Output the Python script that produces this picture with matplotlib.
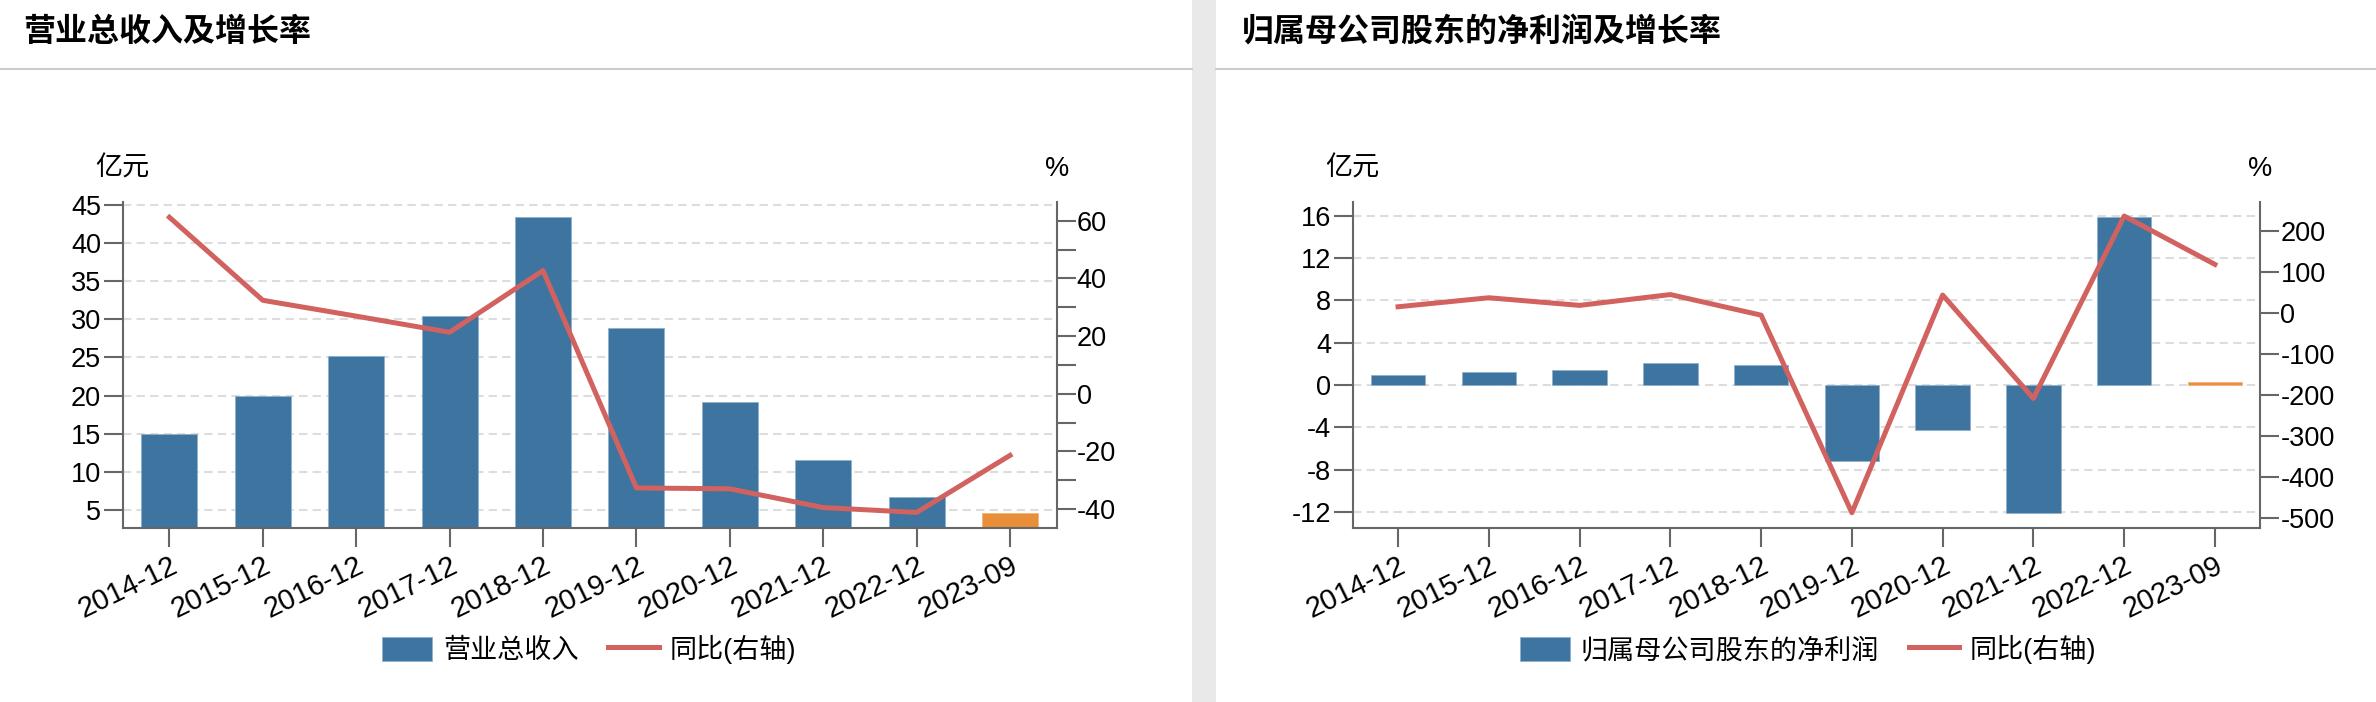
import matplotlib
matplotlib.use("Agg")
import matplotlib.pyplot as plt
from matplotlib.patches import Rectangle, FancyBboxPatch
from matplotlib.legend_handler import HandlerPatch
from matplotlib.lines import Line2D

plt.rcParams["font.family"] = ["Liberation Sans", "Noto Sans CJK SC", "DejaVu Sans"]
plt.rcParams["axes.unicode_minus"] = False

# data
dates = ["2014-12", "2015-12", "2016-12", "2017-12", "2018-12",
         "2019-12", "2020-12", "2021-12", "2022-12", "2023-09"]
revenue = [15.0, 19.9, 25.2, 30.4, 43.4, 28.9, 19.2, 11.5, 6.7, 4.6]
revenue_yoy = [61.2, 32.4, 26.9, 21.3, 42.7, -32.7, -33.0, -39.5, -41.2, -21.4]
profit = [0.92, 1.26, 1.42, 2.04, 1.87, -7.16, -4.28, -12.07, 15.93, 0.3]
profit_yoy = [14.6, 36.6, 18.0, 44.4, -5.9, -488, 43.2, -209, 236, 118]

BLUE = "#3d75a0"
ORANGE = "#e98f3a"
RED = "#d2625f"
AXC = "#666666"

W, H = 2376, 702
fig = plt.figure(figsize=(W / 100, H / 100), dpi=100)


def fx(px):
    return px / W


def fy(py):
    return 1 - py / H


# panel decoration: gray gap strip, title rules
fig.patches.append(Rectangle((fx(1192), 0), fx(24), 1, transform=fig.transFigure,
                             facecolor="#e9e9e9", edgecolor="none"))
fig.add_artist(Line2D([0, fx(1192)], [fy(69)] * 2, color="#cccccc", lw=1.5))
fig.add_artist(Line2D([fx(1216), 1], [fy(69)] * 2, color="#cccccc", lw=1.5))


def round_patch(legend, orig_handle, xdescent, ydescent, width, height, fontsize):
    return FancyBboxPatch((-xdescent, -ydescent), width, height,
                          boxstyle="round,pad=0,rounding_size=%f" % (height * 0.25))


def panel(x0, x1, title, title_x, bars, yoy, bar_name,
          ylim, yticks, ylim2, yticks2, minor2, leg_x):
    ax = fig.add_axes([fx(x0), fy(528.3), fx(x1 - x0), (528.3 - 201.7) / H])
    ax2 = ax.twinx()
    xs = list(range(len(dates)))
    colors = [BLUE] * (len(dates) - 1) + [ORANGE]
    edges = ["#8fb1cc"] * (len(dates) - 1) + ["#f2b577"]
    ax.bar(xs, bars, width=0.6, color=colors, edgecolor=edges, linewidth=0.6,
           label=bar_name, zorder=2)
    ax2.plot(xs, yoy, color=RED, lw=3.6, label="同比(右轴)", zorder=3)

    ax.set_xlim(-0.5, len(dates) - 0.5)
    ax.set_ylim(*ylim)
    ax.set_yticks(yticks)
    ax2.set_ylim(*ylim2)
    ax2.set_yticks(yticks2)
    if minor2:
        ax2.set_yticks(minor2, minor=True)
    ax.set_xticks(xs)
    ax.set_xticklabels(dates, rotation=26, ha="right", rotation_mode="anchor")

    ax.grid(axis="y", color="#dddddd", lw=1.5, linestyle=(0, (4, 2.5)))
    ax.set_axisbelow(True)
    for s in ["top", "right"]:
        ax.spines[s].set_visible(False)
    for s in ["top", "left", "bottom"]:
        ax2.spines[s].set_visible(False)
    for a, s in [(ax, "left"), (ax, "bottom"), (ax2, "right")]:
        a.spines[s].set_color(AXC)
        a.spines[s].set_linewidth(1.5)
    ax.tick_params(axis="both", length=13.5, width=1.5, color=AXC, labelsize=19.5, pad=2)
    ax.tick_params(axis="x", labelsize=21, pad=3)
    ax2.tick_params(axis="y", which="both", length=13.5, width=1.5, color=AXC,
                    labelsize=19.5, pad=1)

    ax.text(0, 1.1, "亿元", transform=ax.transAxes, ha="center", va="center", fontsize=19.5)
    ax2.text(1, 1.1, "%", transform=ax2.transAxes, ha="center", va="center", fontsize=19.5)
    fig.text(fx(title_x), fy(33), title, fontsize=23, fontweight="bold",
             ha="left", va="center")

    h1, l1 = ax.get_legend_handles_labels()
    h2, l2 = ax2.get_legend_handles_labels()
    fig.legend(h1 + h2, l1 + l2, loc="center", bbox_to_anchor=(fx(leg_x), fy(649.5)),
               ncol=2, frameon=False, fontsize=19.5, handlelength=1.85,
               handleheight=1.0, handletextpad=0.4, columnspacing=1.1, borderpad=0,
               handler_map={Rectangle: HandlerPatch(patch_func=round_patch)})


panel(122.7, 1056.7, "营业总收入及增长率", 23, revenue, revenue_yoy, "营业总收入",
      (2.59, 45.43), list(range(5, 46, 5)),
      (-46.7, 66.6), list(range(-40, 61, 20)), list(range(-30, 51, 20)),
      589)

panel(1352.7, 2260.3, "归属母公司股东的净利润及增长率", 1242, profit, profit_yoy,
      "归属母公司股东的净利润",
      (-13.55, 17.34), list(range(-12, 17, 4)),
      (-526, 271), list(range(-500, 201, 100)), None,
      1808)

fig.savefig("out.png", dpi=100, facecolor="white")
